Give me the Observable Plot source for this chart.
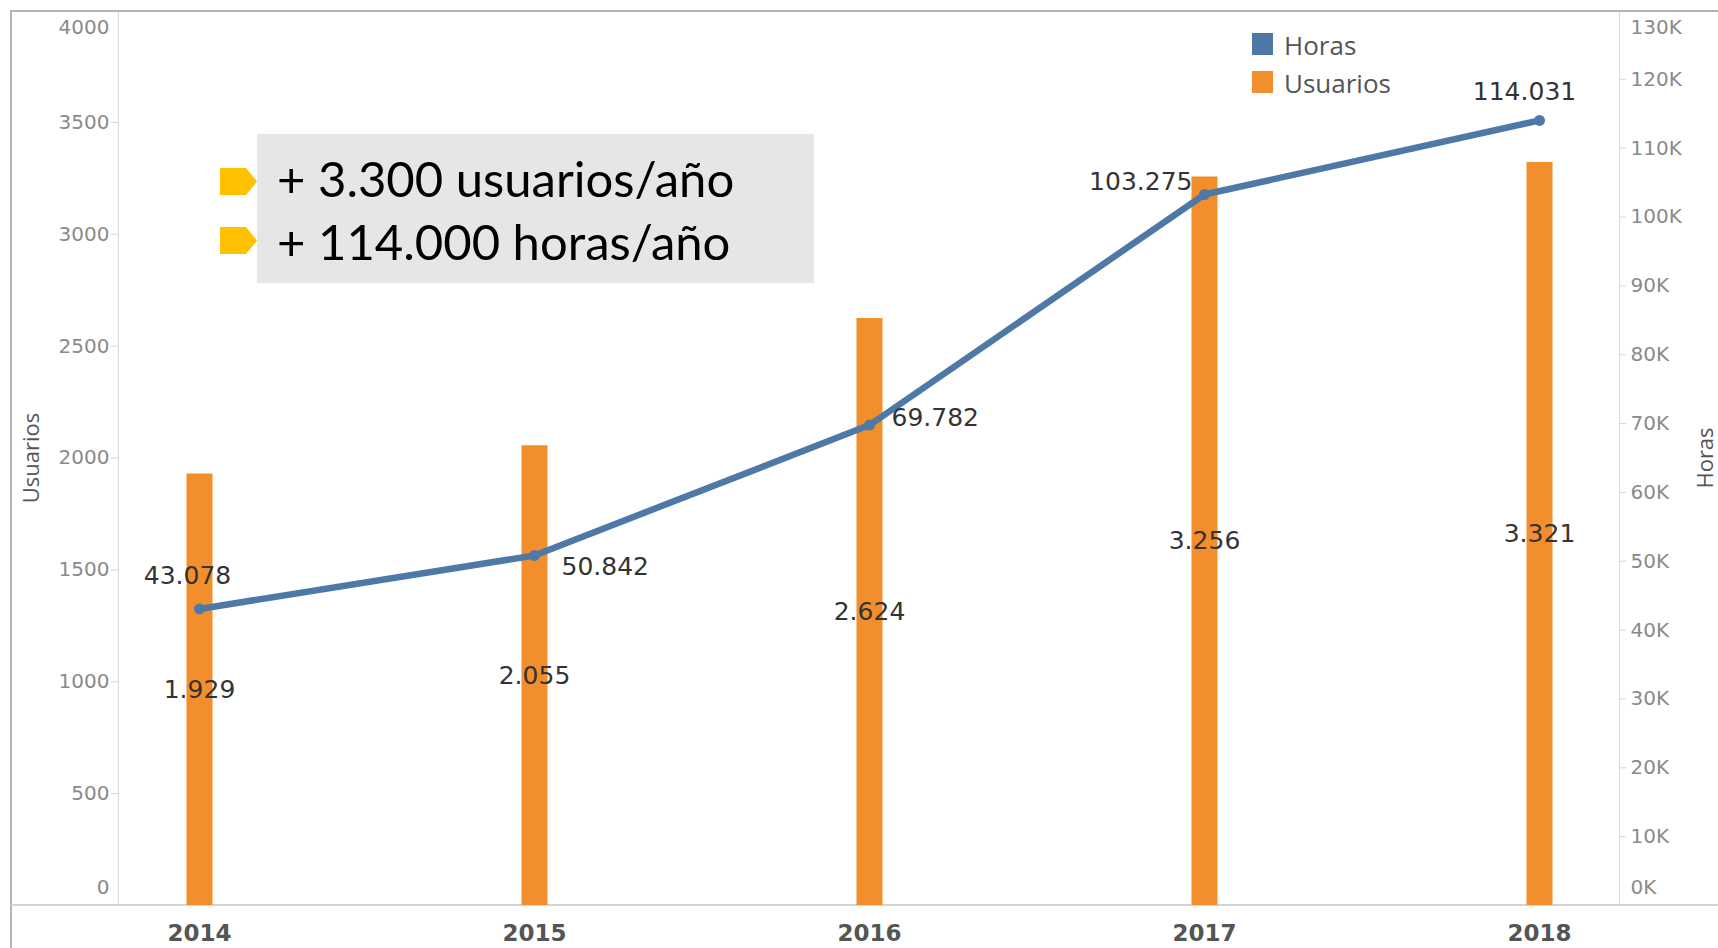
<!DOCTYPE html>
<html>
<head>
<meta charset="utf-8">
<script src="https://cdn.jsdelivr.net/npm/d3@7"></script>
<script src="https://cdn.jsdelivr.net/npm/@observablehq/plot@0.6"></script>
<style>
  html, body { margin: 0; padding: 0; background: #fff; overflow: hidden; }
  #wrap { position: relative; width: 1718px; height: 948px; overflow: hidden; }
  #wrap > svg.plot-svg { position: absolute; left: 0; top: 0; }
  .ln { position: absolute; }
  .leg-sw { position: absolute; width: 21px; height: 22px; }
  .leg-tx { position: absolute; font-family: "Open Sans", sans-serif; font-size: 26px; color: #555; line-height: 30px; }
  .note-box { position: absolute; left: 257px; top: 134px; width: 557px; height: 149px; background: #e6e6e6; }
  .note-tx { position: absolute; left: 277px; font-family: Lato, "Open Sans", sans-serif; font-size: 49px; line-height: 60px; color: #000; white-space: nowrap; }
</style>
</head>
<body>
<div id="wrap"></div>
<script>
// ---- data ----
const years = ["2014", "2015", "2016", "2017", "2018"];
const usuarios = [1929, 2055, 2624, 3256, 3321];
const horas = [43078, 50842, 69782, 103275, 114031];
const usuariosTicks = [0, 500, 1000, 1500, 2000, 2500, 3000, 3500, 4000];
const horasTicks = [0, 10000, 20000, 30000, 40000, 50000, 60000, 70000, 80000, 90000, 100000, 110000, 120000, 130000];
const usuariosMax = 4000;
const horasMax = 130000;
const legendLabels = ["Horas", "Usuarios"];
const notes = ["+ 3.300 usuarios/año", "+ 114.000 horas/año"];

// ---- helpers ----
const BLUE = "#4e79a7", ORANGE = "#f28e2b";
const es = d3.formatLocale({decimal: ",", thousands: ".", grouping: [3], currency: ["", "€"]});
const fmt = es.format(",d");
const toU = h => h * usuariosMax / horasMax;   // horas -> usuarios axis units
const rows = years.map((y, i) => ({year: y, usuarios: usuarios[i], horas: horas[i], horasY: toU(horas[i])}));

const W = 1718, H = 948;
const ML = 118, MR = 99, MT = 10, MB = 43;

const horasLabelOpts = [
  {textAnchor: "middle", dx: -12, dy: -33},
  {textAnchor: "start", dx: 27, dy: 12},
  {textAnchor: "start", dx: 22, dy: -7},
  {textAnchor: "end", dx: -12, dy: -12},
  {textAnchor: "middle", dx: -15, dy: -28}
];

const tickStyle = {fontSize: 20, fill: "#8a8a8a", stroke: "#d6d6d6", label: null};
const uFmt = v => String(Math.round(v));
const hTickVals = horasTicks.map(toU);
const hFmt = v => Math.round(v * horasMax / usuariosMax / 1000) + "K";

const plot = Plot.plot({
  className: "plot",
  width: W, height: H,
  marginLeft: ML, marginRight: MR, marginTop: MT, marginBottom: MB,
  style: {fontFamily: "DejaVu Sans", background: "transparent", overflow: "visible"},
  x: {type: "point", domain: years, padding: 0.24},
  y: {domain: [0, usuariosMax]},
  marks: [
    Plot.ruleX(rows, {x: "year", y1: 0, y2: "usuarios", stroke: ORANGE, strokeWidth: 26}),
    Plot.line(rows, {x: "year", y: "horasY", stroke: BLUE, strokeWidth: 6.5}),
    Plot.dot(rows, {x: "year", y: "horasY", r: 5.5, fill: BLUE}),
    Plot.text(rows, {x: "year", y: d => d.usuarios / 2, text: d => fmt(d.usuarios), fontSize: 25, fill: "#333"}),
    ...horasLabelOpts.map((o, i) => Plot.text([rows[i]], {x: "year", y: "horasY", text: d => fmt(d.horas), fontSize: 25, fill: "#333", ...o})),
    // left axis (Usuarios)
    Plot.axisY(usuariosTicks.slice(1, -1), {anchor: "left", tickSize: 7, tickPadding: 2, tickFormat: uFmt, ...tickStyle}),
    Plot.axisY([usuariosTicks[0]], {anchor: "left", tickSize: 0, tickPadding: 9, dy: -18, tickFormat: uFmt, ...tickStyle}),
    Plot.axisY([usuariosTicks[usuariosTicks.length - 1]], {anchor: "left", tickSize: 0, tickPadding: 9, dy: 17, tickFormat: uFmt, ...tickStyle}),
    // right axis (Horas)
    Plot.axisY(hTickVals.slice(1, -1), {anchor: "right", tickSize: 6, tickPadding: 5, tickFormat: hFmt, ...tickStyle}),
    Plot.axisY([hTickVals[0]], {anchor: "right", tickSize: 0, tickPadding: 11, dy: -18, tickFormat: hFmt, ...tickStyle}),
    Plot.axisY([hTickVals[hTickVals.length - 1]], {anchor: "right", tickSize: 0, tickPadding: 11, dy: 17, tickFormat: hFmt, ...tickStyle}),
    // x axis
    Plot.axisX({anchor: "bottom", tickSize: 0, tickPadding: 19, fontSize: 23, fontWeight: "bold", fill: "#555", label: null}),
    // axis titles
    Plot.text(["Usuarios"], {frameAnchor: "left", text: d => d, rotate: -90, textAnchor: "middle", dx: -87, fontSize: 22, fill: "#555", fontFamily: "Open Sans"}),
    Plot.text(["Horas"], {frameAnchor: "right", text: d => d, rotate: -90, textAnchor: "middle", dx: 86, fontSize: 22, fill: "#555", fontFamily: "Open Sans"})
  ]
});
plot.classList.add("plot-svg");

const wrap = document.getElementById("wrap");
// frame lines
const lines = [
  {left: 10, top: 10, width: 1708, height: 2, bg: "#b4b4b4"},
  {left: 10, top: 10, width: 2, height: 938, bg: "#b4b4b4"},
  {left: 11, top: 904, width: 1707, height: 2, bg: "#d4d4d4"},
  {left: 118, top: 12, width: 1, height: 893, bg: "#d9d9d9"},
  {left: 1619, top: 12, width: 1, height: 893, bg: "#d9d9d9"}
];
for (const l of lines) {
  const d = document.createElement("div");
  d.className = "ln";
  Object.assign(d.style, {left: l.left + "px", top: l.top + "px", width: l.width + "px", height: l.height + "px", background: l.bg});
  wrap.appendChild(d);
}
wrap.appendChild(plot);

// legend
const legColors = [BLUE, ORANGE];
legendLabels.forEach((t, i) => {
  const sw = document.createElement("div");
  sw.className = "leg-sw";
  Object.assign(sw.style, {left: "1252px", top: (33 + i * 38) + "px", background: legColors[i]});
  wrap.appendChild(sw);
  const tx = document.createElement("div");
  tx.className = "leg-tx";
  tx.textContent = t;
  Object.assign(tx.style, {left: "1284px", top: (30 + i * 38) + "px"});
  wrap.appendChild(tx);
});

// annotation box
const box = document.createElement("div");
box.className = "note-box";
wrap.appendChild(box);
notes.forEach((t, i) => {
  const ar = document.createElementNS("http://www.w3.org/2000/svg", "svg");
  ar.setAttribute("width", "37");
  ar.setAttribute("height", "27");
  ar.setAttribute("viewBox", "0 0 37 27");
  ar.setAttribute("style", `position:absolute;left:220px;top:${168 + i * 59}px;`);
  ar.innerHTML = '<polygon points="0,0 26,0 37,13.5 26,27 0,27" fill="#ffc000"/>';
  wrap.appendChild(ar);
  const tx = document.createElement("div");
  tx.className = "note-tx";
  tx.textContent = t;
  tx.style.top = (148 + i * 63) + "px";
  wrap.appendChild(tx);
});
</script>
</body>
</html>
